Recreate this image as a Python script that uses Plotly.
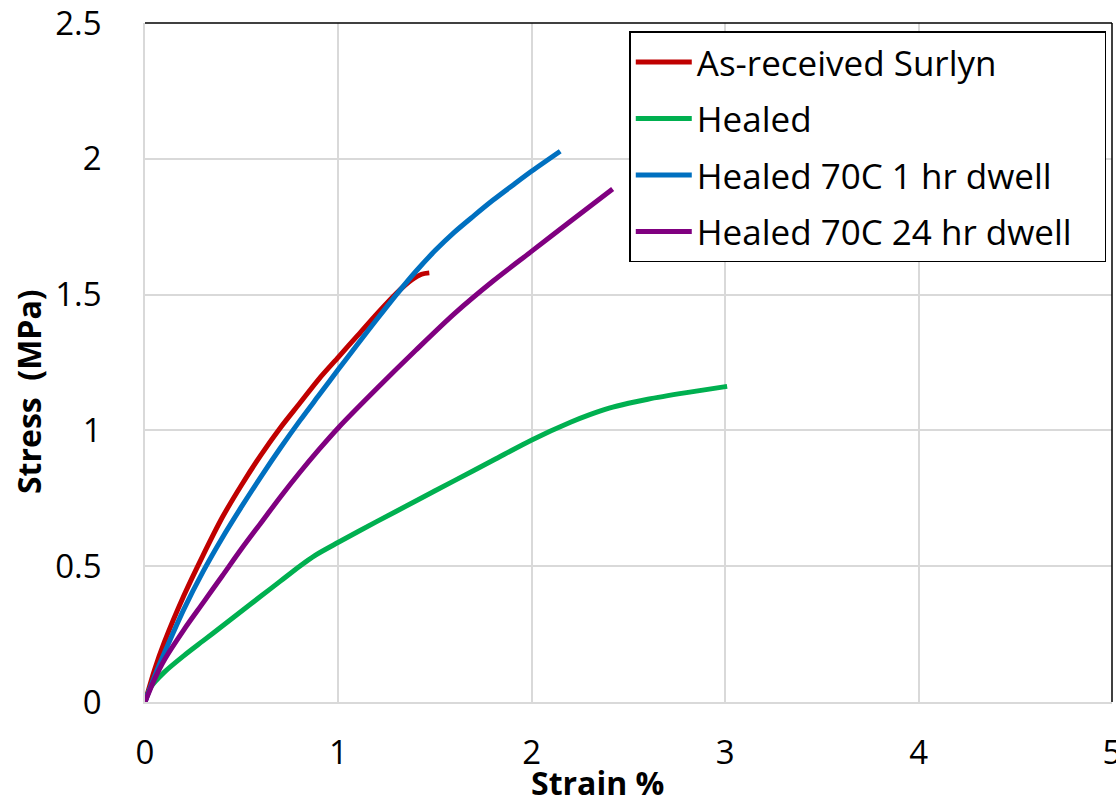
import plotly.graph_objects as go

# ---- data ----
names = ["As-received Surlyn", "Healed", "Healed 70C 1 hr dwell", "Healed 70C 24 hr dwell"]
colors = ["#C00000", "#00B050", "#0070C0", "#800080"]

red_x = [0, 0.05, 0.10, 0.20, 0.30, 0.40, 0.50, 0.60, 0.70, 0.80, 0.90, 1.00, 1.10, 1.20, 1.30, 1.38, 1.43, 1.47]
red_y = [0, 0.12, 0.22, 0.39, 0.54, 0.68, 0.80, 0.91, 1.01, 1.10, 1.19, 1.27, 1.35, 1.43, 1.505, 1.555, 1.575, 1.58]

green_x = [0, 0.03, 0.10, 0.20, 0.30, 0.40, 0.50, 0.60, 0.70, 0.80, 0.88, 1.00, 1.20, 1.40, 1.60, 1.80, 2.00, 2.20, 2.30, 2.40, 2.50, 2.60, 2.80, 3.01]
green_y = [0, 0.055, 0.11, 0.17, 0.225, 0.28, 0.335, 0.39, 0.445, 0.50, 0.54, 0.588, 0.665, 0.74, 0.815, 0.89, 0.965, 1.03, 1.058, 1.082, 1.10, 1.115, 1.139, 1.162]

blue_x = [0, 0.05, 0.10, 0.20, 0.30, 0.40, 0.50, 0.60, 0.70, 0.80, 0.90, 1.00, 1.10, 1.20, 1.30, 1.40, 1.50, 1.60, 1.70, 1.80, 1.90, 2.00, 2.147]
blue_y = [0, 0.095, 0.18, 0.34, 0.48, 0.605, 0.72, 0.83, 0.935, 1.035, 1.13, 1.225, 1.318, 1.41, 1.50, 1.585, 1.662, 1.73, 1.79, 1.848, 1.902, 1.955, 2.028]

purple_x = [0, 0.05, 0.10, 0.20, 0.30, 0.40, 0.50, 0.60, 0.70, 0.80, 0.90, 1.00, 1.20, 1.40, 1.60, 1.80, 2.00, 2.20, 2.418]
purple_y = [0, 0.085, 0.155, 0.265, 0.365, 0.465, 0.565, 0.66, 0.755, 0.845, 0.93, 1.01, 1.155, 1.295, 1.43, 1.55, 1.66, 1.77, 1.889]

xs = [red_x, green_x, blue_x, purple_x]
ys = [red_y, green_y, blue_y, purple_y]

x_ticks = [0, 1, 2, 3, 4, 5]
y_ticks = [0, 0.5, 1, 1.5, 2, 2.5]
y_tick_text = ["0", "0.5", "1", "1.5", "2", "2.5"]

FONT = "Open Sans"
PAD = "\u00a0\u00a0\u00a0"

fig = go.Figure()
for i, (n, c, x, y) in enumerate(zip(names, colors, xs, ys)):
    fig.add_trace(go.Scatter(
        x=x, y=y, name=n + PAD, mode="lines", legendgroup=str(i),
        line=dict(color=c, width=5, shape="spline", smoothing=0.8),
    ))

grid = "#D9D9D9"
fig.update_layout(
    width=1116, height=802,
    margin=dict(l=144.5, r=4, t=23, b=100, autoexpand=False),
    paper_bgcolor="white", plot_bgcolor="white",
    font=dict(family=FONT, color="black", size=33),
    showlegend=True,
    legend=dict(
        x=0.5008, y=0.988, xanchor="left", yanchor="top",
        bordercolor="black", borderwidth=1.5, bgcolor="white",
        font=dict(family=FONT, size=35, color="black"),
        tracegroupgap=8, traceorder="grouped", itemwidth=56,
    ),
    xaxis=dict(
        range=[0, 5], tickvals=x_ticks, ticktext=[str(v) for v in x_ticks],
        showgrid=True, gridcolor=grid, gridwidth=1.5, automargin=False,
        zeroline=False, showline=True, linecolor=grid, linewidth=1.5,
        ticks="", ticklabelstandoff=21, ticklabeloverflow="allow",
        tickfont=dict(family=FONT, size=33, color="black"),
    ),
    yaxis=dict(
        range=[0, 2.5], tickvals=y_ticks, ticktext=y_tick_text,
        showgrid=True, gridcolor=grid, gridwidth=1.5, automargin=False,
        zeroline=False, showline=True, linecolor=grid, linewidth=1.5,
        ticks="", ticklabelstandoff=35, ticklabeloverflow="allow",
        tickfont=dict(family=FONT, size=33, color="black"),
    ),
    shapes=[
        dict(type="line", xref="paper", yref="paper", x0=0, x1=1, y0=1, y1=1,
             line=dict(color="black", width=1.5)),
        dict(type="line", xref="paper", yref="paper", x0=1, x1=1, y0=0, y1=1,
             line=dict(color="black", width=1.5)),
    ],
    annotations=[
        dict(text="<b>Stress\u00a0 (MPa)</b>", xref="paper", yref="paper",
             x=-0.1204, y=0.4573, xanchor="center", yanchor="middle",
             textangle=-90, showarrow=False,
             font=dict(family=FONT, size=32, color="black")),
        dict(text="<b>Strain %</b>", xref="paper", yref="paper",
             x=0.4677, y=-0.119, xanchor="center", yanchor="middle",
             showarrow=False, font=dict(family=FONT, size=32, color="black")),
    ],
)

fig.write_html("out.html")
